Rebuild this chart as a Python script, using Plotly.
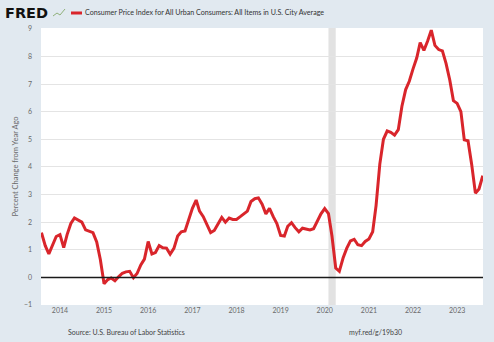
import pandas as pd
import plotly.graph_objects as go

# CPI-U, all items, percent change from year ago (monthly, Aug 2013 - Aug 2023)
start_month = "2013-08-01"
cpi_yoy = [
    # 2013 Aug-Dec
    1.62, 1.15, 0.85, 1.20, 1.48,
    # 2014
    1.55, 1.08, 1.55, 1.95, 2.15, 2.08, 2.00, 1.72, 1.68, 1.62, 1.28, 0.65,
    # 2015
    -0.23, -0.08, -0.02, -0.12, 0.02, 0.15, 0.20, 0.22, -0.01, 0.14, 0.45, 0.66,
    # 2016
    1.30, 0.85, 0.90, 1.15, 1.07, 1.06, 0.84, 1.05, 1.50, 1.65, 1.68, 2.05,
    # 2017
    2.50, 2.80, 2.40, 2.20, 1.90, 1.62, 1.70, 1.93, 2.17, 2.00, 2.15, 2.10,
    # 2018
    2.10, 2.20, 2.30, 2.40, 2.75, 2.85, 2.88, 2.65, 2.30, 2.50, 2.20, 1.95,
    # 2019
    1.52, 1.50, 1.85, 1.98, 1.80, 1.65, 1.78, 1.75, 1.72, 1.76, 2.05, 2.30,
    # 2020
    2.49, 2.31, 1.50, 0.34, 0.22, 0.70, 1.05, 1.32, 1.38, 1.18, 1.15, 1.30,
    # 2021
    1.39, 1.65, 2.60, 4.10, 5.00, 5.30, 5.25, 5.15, 5.35, 6.20, 6.80, 7.10,
    # 2022
    7.55, 7.95, 8.50, 8.22, 8.55, 8.95, 8.40, 8.25, 8.20, 7.75, 7.15, 6.40,
    # 2023 Jan-Aug
    6.30, 6.00, 4.98, 4.95, 4.10, 3.05, 3.20, 3.68,
]
dates = pd.date_range(start_month, periods=len(cpi_yoy), freq="MS")

# NBER recession period
recession = ("2020-02-01", "2020-04-01")

y_ticks = list(range(-1, 10))
x_ticks = [f"{y}-01-01" for y in range(2014, 2024)]
x_tick_labels = [str(y) for y in range(2014, 2024)]

series_title = "Consumer Price Index for All Urban Consumers: All Items in U.S. City Average"
source_text = "Source: U.S. Bureau of Labor Statistics"
short_url = "myf.red/g/19b30"

font_family = "Lato, 'Open Sans', sans-serif"
text_grey = "#6a6a6a"
line_red = "#d9252b"

# plot-area geometry in pixels, used to place header/footer items
ML, MR, MT, MB = 41, 11, 28, 37
PW, PH = 494 - ML - MR, 342 - MT - MB


def px_x(x):
    return (x - ML) / PW


def px_y(y):
    return (342 - MB - y) / PH


fig = go.Figure()
fig.add_trace(go.Scatter(
    x=dates, y=cpi_yoy, mode="lines",
    line=dict(color=line_red, width=3),
    showlegend=False, hoverinfo="skip",
))

fig.add_vrect(x0=recession[0], x1=recession[1], fillcolor="#e2e2e2",
              opacity=1, line_width=0, layer="below")
fig.add_hline(y=0, line=dict(color="#1a1a1a", width=1.5))

fig.update_layout(
    width=494, height=342,
    margin=dict(l=ML, r=MR, t=MT, b=MB),
    paper_bgcolor="#e1e9f0",
    plot_bgcolor="#ffffff",
    font=dict(family=font_family, size=7, color=text_grey),
    xaxis=dict(
        range=["2013-07-28", "2023-08-03"],
        tickvals=x_ticks, ticktext=x_tick_labels,
        showgrid=False, zeroline=False, showline=False,
        ticks="", automargin=False,
        tickfont=dict(size=7, color=text_grey),
    ),
    yaxis=dict(
        range=[-1, 9.03],
        tickvals=y_ticks,
        showgrid=True, gridcolor="#e4e4e4", gridwidth=1,
        zeroline=False, showline=False, ticks="",
        ticklabelstandoff=8, automargin=False,
        tickfont=dict(size=7, color=text_grey),
        title=dict(text="Percent Change from Year Ago",
                   font=dict(size=7.5, color=text_grey), standoff=4),
    ),
)

# header: logo, legend swatch and series title
fig.add_annotation(text="<b>FRED</b>", xref="paper", yref="paper",
                   x=px_x(3), y=px_y(13), xanchor="left", yanchor="middle",
                   showarrow=False,
                   font=dict(family="'DejaVu Sans', sans-serif", size=14.5, color="#111111"))
fig.add_shape(type="path", xref="paper", yref="paper",
              path=f"M {px_x(53)} {px_y(16)} L {px_x(57)} {px_y(13)} "
                   f"L {px_x(60)} {px_y(15)} L {px_x(65)} {px_y(9)}",
              line=dict(color="#8fb07a", width=1))
fig.add_shape(type="line", xref="paper", yref="paper",
              x0=px_x(71), x1=px_x(82), y0=px_y(13), y1=px_y(13),
              line=dict(color=line_red, width=3))
fig.add_annotation(text=series_title, xref="paper", yref="paper",
                   x=px_x(83), y=px_y(13), xanchor="left", yanchor="middle",
                   showarrow=False, font=dict(size=7.1, color="#333333"))

# footer
fig.add_annotation(text=source_text, xref="paper", yref="paper",
                   x=px_x(66), y=px_y(332), xanchor="left", yanchor="middle",
                   showarrow=False, font=dict(size=7, color="#444444"))
fig.add_annotation(text=short_url, xref="paper", yref="paper",
                   x=px_x(347), y=px_y(332), xanchor="left", yanchor="middle",
                   showarrow=False, font=dict(size=7, color="#444444"))

fig.write_html("out.html")
